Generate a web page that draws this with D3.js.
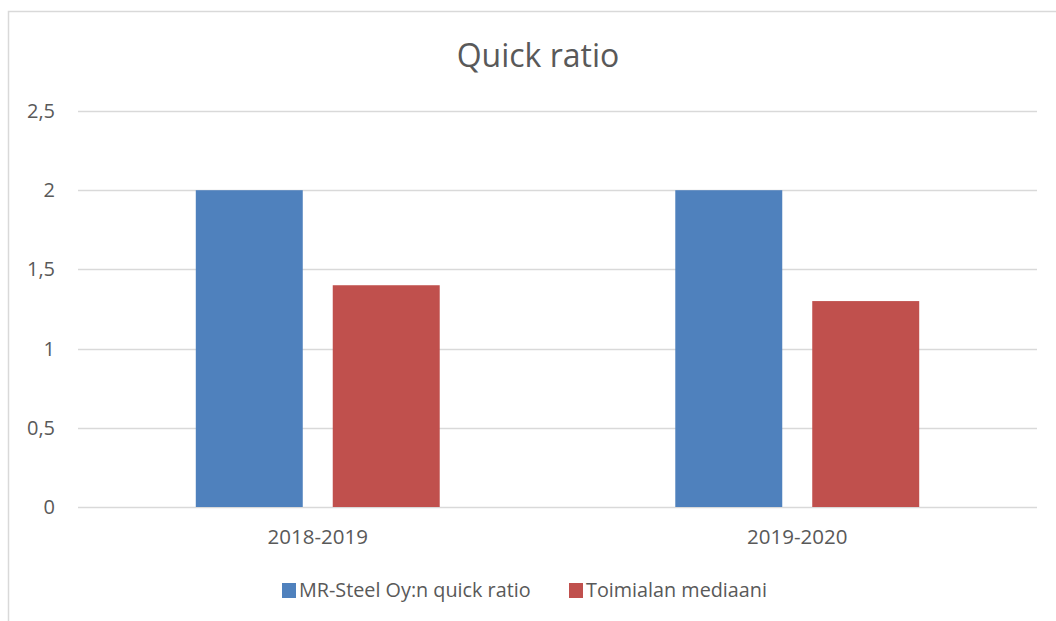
<!DOCTYPE html>
<html>
<head>
<meta charset="utf-8">
<script src="https://cdn.jsdelivr.net/npm/d3@7"></script>
<style>
  body { margin: 0; background: #fff; }
  svg { display: block; font-family: "Open Sans", "Noto Sans", sans-serif; }
</style>
</head>
<body>
<svg id="chart" width="1056" height="621"></svg>
<script>
// data
const categories = ["2018-2019", "2019-2020"];
const seriesNames = ["MR-Steel Oy:n quick ratio", "Toimialan mediaani"];
const mrSteel = [2.0, 2.0];
const median = [1.4, 1.3];
const yTicks = [0, 0.5, 1, 1.5, 2, 2.5];
const colors = ["#4F81BD", "#C0504D"];

const width = 1056, height = 621;
const margin = {top: 111, right: 19, bottom: 114, left: 78};

const svg = d3.select("#chart");

// chart frame
svg.append("rect")
  .attr("x", 8.5).attr("y", 11.5)
  .attr("width", 1060).attr("height", 620)
  .attr("fill", "none")
  .attr("stroke", "#d9d9d9")
  .attr("stroke-width", 1.5);

const x0 = d3.scaleBand()
  .domain(categories)
  .range([margin.left, width - margin.right]);

const x1 = d3.scaleBand()
  .domain(seriesNames)
  .range([0, x0.bandwidth()])
  .paddingInner(0.219)
  .paddingOuter(0.86);

const y = d3.scaleLinear()
  .domain([0, 2.5])
  .range([height - margin.bottom, margin.top]);

const fmt = d => String(d).replace(".", ",");

// gridlines
svg.append("g")
  .selectAll("line")
  .data(yTicks)
  .join("line")
  .attr("x1", margin.left)
  .attr("x2", width - margin.right)
  .attr("y1", d => Math.round(y(d)) + 0.5)
  .attr("y2", d => Math.round(y(d)) + 0.5)
  .attr("stroke", "#d9d9d9")
  .attr("stroke-width", 1.3);

// y axis labels
const yAxis = g => g
  .attr("transform", `translate(${margin.left - 10},0)`)
  .call(d3.axisLeft(y).tickValues(yTicks).tickFormat(fmt).tickSize(0).tickPadding(13))
  .call(g => g.select(".domain").remove())
  .call(g => g.selectAll("text")
    .attr("fill", "#595959")
    .attr("font-size", "20px")
    .attr("font-family", "'Open Sans', sans-serif"));
svg.append("g").call(yAxis);

// bars
const rows = categories.map((c, i) => ({cat: c, vals: [mrSteel[i], median[i]]}));
svg.append("g")
  .selectAll("g")
  .data(rows)
  .join("g")
  .attr("transform", d => `translate(${x0(d.cat)},0)`)
  .selectAll("rect")
  .data(d => d.vals.map((v, j) => ({name: seriesNames[j], v, j})))
  .join("rect")
  .attr("x", d => x1(d.name))
  .attr("width", x1.bandwidth())
  .attr("y", d => y(d.v))
  .attr("height", d => y(0) - y(d.v))
  .attr("fill", d => colors[d.j]);

// x axis labels
const xAxis = g => g
  .attr("transform", `translate(0,${height - margin.bottom})`)
  .call(d3.axisBottom(x0).tickSize(0).tickPadding(22))
  .call(g => g.select(".domain").remove())
  .call(g => g.selectAll("text")
    .attr("fill", "#595959")
    .attr("font-size", "20.5px")
    .attr("font-family", "'Open Sans', sans-serif"));
svg.append("g").call(xAxis);

// title
svg.append("text")
  .attr("x", 538)
  .attr("y", 67)
  .attr("text-anchor", "middle")
  .attr("fill", "#595959")
  .attr("font-size", "32px")
  .text("Quick ratio");

// legend
const legendX = [282, 569];
const legend = svg.append("g")
  .selectAll("g")
  .data(seriesNames)
  .join("g")
  .attr("transform", (d, i) => `translate(${legendX[i]},583)`);
legend.append("rect")
  .attr("width", 14).attr("height", 15)
  .attr("fill", (d, i) => colors[i]);
legend.append("text")
  .attr("x", 17)
  .attr("y", 14)
  .attr("fill", "#595959")
  .attr("font-size", "19.8px")
  .text(d => d);
</script>
</body>
</html>
